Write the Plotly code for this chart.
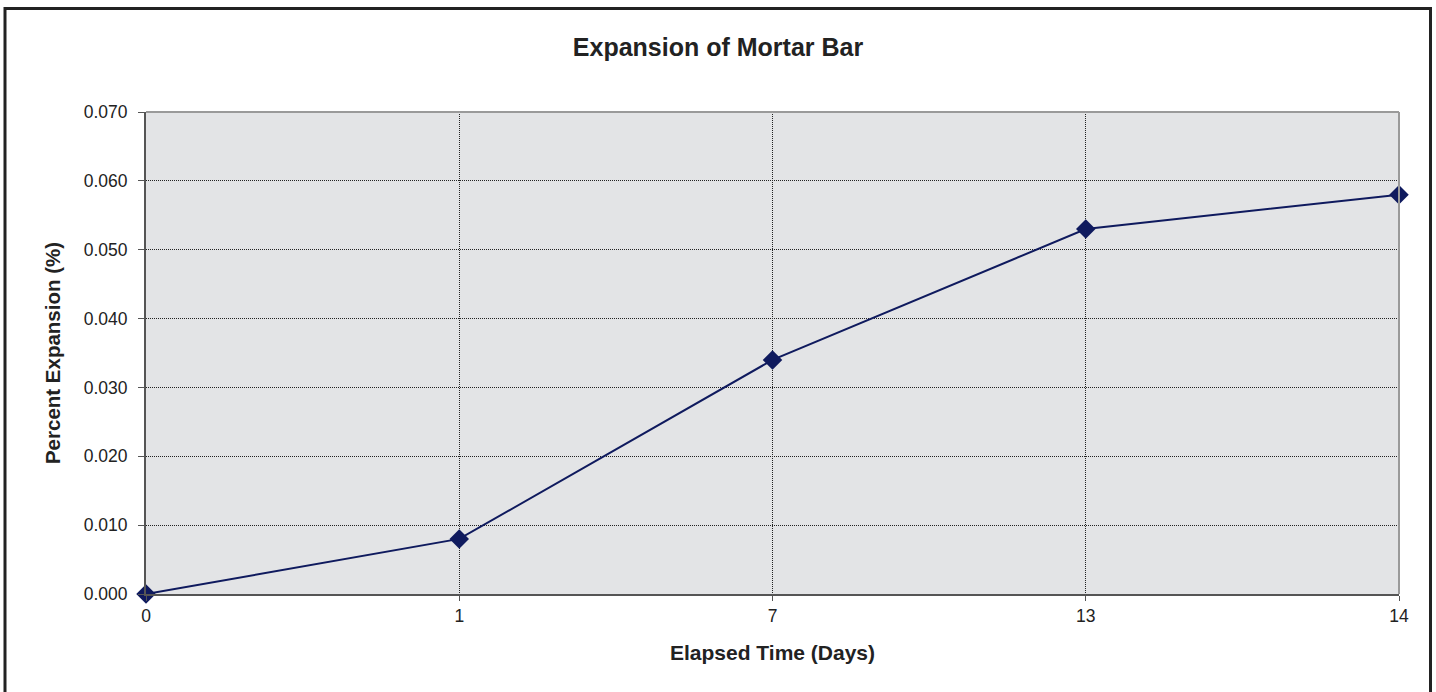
import plotly.graph_objects as go

# Mortar bar expansion readings
days = ["0", "1", "7", "13", "14"]
expansion_pct = [0.000, 0.008, 0.034, 0.053, 0.058]
y_ticks = [0.00, 0.01, 0.02, 0.03, 0.04, 0.05, 0.06, 0.07]

navy = "#0f1a5e"
font_family = "Liberation Sans, Arial, sans-serif"

fig = go.Figure()
fig.add_trace(go.Scatter(
    x=days, y=expansion_pct,
    mode="lines+markers",
    line=dict(color=navy, width=2),
    marker=dict(symbol="diamond", size=15, color=navy),
    cliponaxis=False,
    showlegend=False,
))

W, H = 1436, 692
L, R, T, B = 146, 37, 112, 98
pw, ph = W - L - R, H - T - B

def px_x(x):
    return (x - L) / pw

def px_y(y):
    return (H - B - y) / ph

shapes = [
    # light frame on the top and right of the plotting area
    dict(type="line", xref="paper", yref="paper", x0=0, x1=1, y0=1, y1=1,
         line=dict(color="#9a9a9a", width=2), layer="above"),
    dict(type="line", xref="paper", yref="paper", x0=1, x1=1, y0=0, y1=1,
         line=dict(color="#9a9a9a", width=2), layer="above"),
    # outer chart border
    dict(type="rect", xref="paper", yref="paper",
         x0=px_x(5), x1=px_x(1430.5), y0=px_y(8.5), y1=px_y(760),
         line=dict(color="#222222", width=3), layer="above"),
]

grid_dash = "1px,1px"

fig.update_layout(
    width=W, height=H,
    margin=dict(l=L, r=R, t=T, b=B, pad=0),
    paper_bgcolor="white",
    plot_bgcolor="#e3e4e6",
    font=dict(family=font_family, size=17.5, color="#222222"),
    title=dict(text="<b>Expansion of Mortar Bar</b>", x=0.5, xanchor="center",
               y=1 - 47 / H, yanchor="middle",
               font=dict(size=25, color="#222222")),
    shapes=shapes,
    xaxis=dict(
        type="category",
        range=[0, len(days) - 1],
        showgrid=True, gridcolor="#222222", gridwidth=1, griddash=grid_dash,
        showline=True, linecolor="#555555", linewidth=2,
        ticks="outside", ticklen=5, tickcolor="#555555",
        tickfont=dict(size=17.5),
        title=dict(text="<b>Elapsed Time (Days)</b>", font=dict(size=21), standoff=20),
        zeroline=False,
    ),
    yaxis=dict(
        range=[0, 0.07],
        tickvals=y_ticks,
        tickformat=".3f",
        showgrid=True, gridcolor="#222222", gridwidth=1, griddash=grid_dash,
        showline=True, linecolor="#555555", linewidth=2,
        ticks="outside", ticklen=6, tickcolor="#555555",
        ticklabelstandoff=7,
        tickfont=dict(size=17.5),
        title=dict(text="<b>Percent Expansion (%)</b>", font=dict(size=20.5), standoff=18),
        zeroline=False,
    ),
)

fig.write_html("out.html")
